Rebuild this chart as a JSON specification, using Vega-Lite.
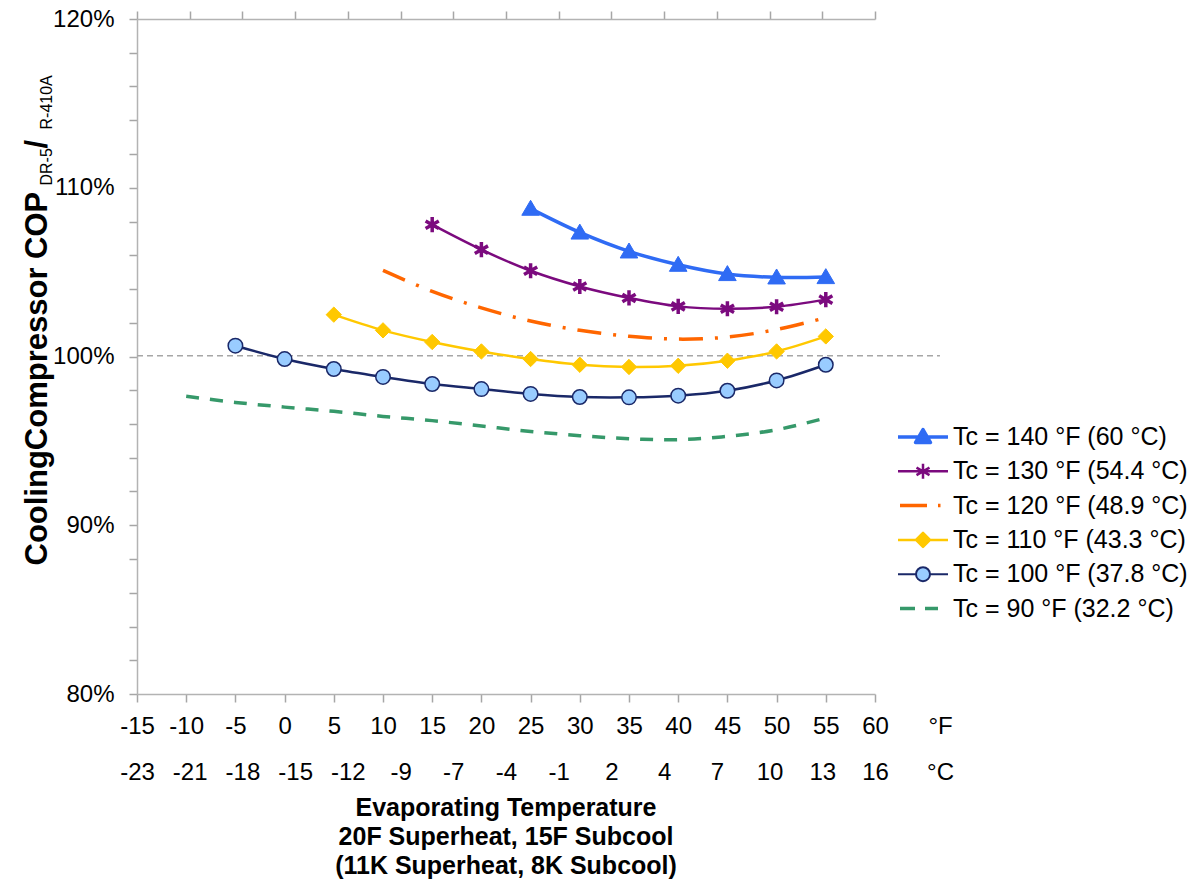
{
  "$schema": "https://vega.github.io/schema/vega-lite/v6.json",
  "width": 738,
  "height": 675,
  "autosize": "none",
  "padding": {"left": 137, "top": 19, "right": 328, "bottom": 190},
  "background": "white",
  "config": {"font": "Liberation Sans", "view": {"stroke": null}, "axis": {"grid": false}},
  "title": {
    "text": ["Evaporating Temperature", "20F Superheat, 15F Subcool", "(11K Superheat, 8K Subcool)"],
    "orient": "bottom", "anchor": "middle", "frame": "group",
    "fontSize": 25, "fontWeight": "bold", "lineHeight": 29, "color": "#000", "offset": 11
  },
  "datasets": {
    "curves": [
      {"series": "Tc = 140 °F (60 °C)", "tevap": 25, "ratio": 108.76},
      {"series": "Tc = 140 °F (60 °C)", "tevap": 30, "ratio": 107.35},
      {"series": "Tc = 140 °F (60 °C)", "tevap": 35, "ratio": 106.23},
      {"series": "Tc = 140 °F (60 °C)", "tevap": 40, "ratio": 105.44},
      {"series": "Tc = 140 °F (60 °C)", "tevap": 45, "ratio": 104.89},
      {"series": "Tc = 140 °F (60 °C)", "tevap": 50, "ratio": 104.69},
      {"series": "Tc = 140 °F (60 °C)", "tevap": 55, "ratio": 104.71},
      {"series": "Tc = 130 °F (54.4 °C)", "tevap": 15, "ratio": 107.81},
      {"series": "Tc = 130 °F (54.4 °C)", "tevap": 20, "ratio": 106.33},
      {"series": "Tc = 130 °F (54.4 °C)", "tevap": 25, "ratio": 105.08},
      {"series": "Tc = 130 °F (54.4 °C)", "tevap": 30, "ratio": 104.15},
      {"series": "Tc = 130 °F (54.4 °C)", "tevap": 35, "ratio": 103.47},
      {"series": "Tc = 130 °F (54.4 °C)", "tevap": 40, "ratio": 102.97},
      {"series": "Tc = 130 °F (54.4 °C)", "tevap": 45, "ratio": 102.83},
      {"series": "Tc = 130 °F (54.4 °C)", "tevap": 50, "ratio": 102.95},
      {"series": "Tc = 130 °F (54.4 °C)", "tevap": 55, "ratio": 103.37},
      {"series": "Tc = 120 °F (48.9 °C)", "tevap": 10, "ratio": 105.1},
      {"series": "Tc = 120 °F (48.9 °C)", "tevap": 15, "ratio": 103.86},
      {"series": "Tc = 120 °F (48.9 °C)", "tevap": 20, "ratio": 102.88},
      {"series": "Tc = 120 °F (48.9 °C)", "tevap": 25, "ratio": 102.1},
      {"series": "Tc = 120 °F (48.9 °C)", "tevap": 30, "ratio": 101.55},
      {"series": "Tc = 120 °F (48.9 °C)", "tevap": 35, "ratio": 101.2},
      {"series": "Tc = 120 °F (48.9 °C)", "tevap": 40, "ratio": 101.03},
      {"series": "Tc = 120 °F (48.9 °C)", "tevap": 45, "ratio": 101.15},
      {"series": "Tc = 120 °F (48.9 °C)", "tevap": 50, "ratio": 101.6},
      {"series": "Tc = 120 °F (48.9 °C)", "tevap": 55, "ratio": 102.3},
      {"series": "Tc = 110 °F (43.3 °C)", "tevap": 5, "ratio": 102.48},
      {"series": "Tc = 110 °F (43.3 °C)", "tevap": 10, "ratio": 101.55},
      {"series": "Tc = 110 °F (43.3 °C)", "tevap": 15, "ratio": 100.86},
      {"series": "Tc = 110 °F (43.3 °C)", "tevap": 20, "ratio": 100.3},
      {"series": "Tc = 110 °F (43.3 °C)", "tevap": 25, "ratio": 99.85},
      {"series": "Tc = 110 °F (43.3 °C)", "tevap": 30, "ratio": 99.51},
      {"series": "Tc = 110 °F (43.3 °C)", "tevap": 35, "ratio": 99.38},
      {"series": "Tc = 110 °F (43.3 °C)", "tevap": 40, "ratio": 99.45},
      {"series": "Tc = 110 °F (43.3 °C)", "tevap": 45, "ratio": 99.75},
      {"series": "Tc = 110 °F (43.3 °C)", "tevap": 50, "ratio": 100.3},
      {"series": "Tc = 110 °F (43.3 °C)", "tevap": 55, "ratio": 101.19},
      {"series": "Tc = 100 °F (37.8 °C)", "tevap": -5, "ratio": 100.64},
      {"series": "Tc = 100 °F (37.8 °C)", "tevap": 0, "ratio": 99.85},
      {"series": "Tc = 100 °F (37.8 °C)", "tevap": 5, "ratio": 99.26},
      {"series": "Tc = 100 °F (37.8 °C)", "tevap": 10, "ratio": 98.79},
      {"series": "Tc = 100 °F (37.8 °C)", "tevap": 15, "ratio": 98.37},
      {"series": "Tc = 100 °F (37.8 °C)", "tevap": 20, "ratio": 98.07},
      {"series": "Tc = 100 °F (37.8 °C)", "tevap": 25, "ratio": 97.78},
      {"series": "Tc = 100 °F (37.8 °C)", "tevap": 30, "ratio": 97.6},
      {"series": "Tc = 100 °F (37.8 °C)", "tevap": 35, "ratio": 97.58},
      {"series": "Tc = 100 °F (37.8 °C)", "tevap": 40, "ratio": 97.68},
      {"series": "Tc = 100 °F (37.8 °C)", "tevap": 45, "ratio": 97.97},
      {"series": "Tc = 100 °F (37.8 °C)", "tevap": 50, "ratio": 98.58},
      {"series": "Tc = 100 °F (37.8 °C)", "tevap": 55, "ratio": 99.51},
      {"series": "Tc = 90 °F (32.2 °C)", "tevap": -10, "ratio": 97.64},
      {"series": "Tc = 90 °F (32.2 °C)", "tevap": -5, "ratio": 97.28},
      {"series": "Tc = 90 °F (32.2 °C)", "tevap": 0, "ratio": 97.0},
      {"series": "Tc = 90 °F (32.2 °C)", "tevap": 5, "ratio": 96.75},
      {"series": "Tc = 90 °F (32.2 °C)", "tevap": 10, "ratio": 96.45},
      {"series": "Tc = 90 °F (32.2 °C)", "tevap": 15, "ratio": 96.2},
      {"series": "Tc = 90 °F (32.2 °C)", "tevap": 20, "ratio": 95.88},
      {"series": "Tc = 90 °F (32.2 °C)", "tevap": 25, "ratio": 95.56},
      {"series": "Tc = 90 °F (32.2 °C)", "tevap": 30, "ratio": 95.31},
      {"series": "Tc = 90 °F (32.2 °C)", "tevap": 35, "ratio": 95.13},
      {"series": "Tc = 90 °F (32.2 °C)", "tevap": 40, "ratio": 95.07},
      {"series": "Tc = 90 °F (32.2 °C)", "tevap": 45, "ratio": 95.27},
      {"series": "Tc = 90 °F (32.2 °C)", "tevap": 50, "ratio": 95.66},
      {"series": "Tc = 90 °F (32.2 °C)", "tevap": 55, "ratio": 96.36}
    ],
    "ref": [{"level": 100.05}]
  },
  "layer": [
    {
      "data": {"name": "ref"},
      "mark": {"type": "rule", "color": "#A6A6A6", "strokeWidth": 1.5, "strokeDash": [6, 4]},
      "encoding": {
        "y": {"field": "level", "type": "quantitative", "scale": {"domain": [80, 120], "nice": false, "zero": false},
          "axis": {"orient": "left", "labels": false, "ticks": false, "domain": false, "grid": false,
            "title": "R-410A", "titleFontSize": 16, "titleFontWeight": "normal", "titleColor": "#000",
            "titleX": -86, "titleY": 110, "titleAngle": 270, "titleAlign": "left", "titleBaseline": "alphabetic"}},
        "x": {"datum": -15, "type": "quantitative", "scale": {"domain": [-15, 60], "nice": false, "zero": false}, "axis": null},
        "x2": {"datum": 66.6}
      }
    },
    {
      "data": {"name": "curves"},
      "transform": [{"filter": {"field": "series", "oneOf": ["Tc = 140 °F (60 °C)", "Tc = 130 °F (54.4 °C)", "Tc = 110 °F (43.3 °C)", "Tc = 100 °F (37.8 °C)"]}}],
      "mark": {"type": "line", "interpolate": "catmull-rom"},
      "encoding": {
        "x": {"field": "tevap", "type": "quantitative", "scale": {"domain": [-15, 60], "nice": false, "zero": false},
          "axis": {"orient": "bottom", "values": [-15, -10, -5, 0, 5, 10, 15, 20, 25, 30, 35, 40, 45, 50, 55, 60],
            "labelExpr": "datum.value + ''",
            "labelFontSize": 24, "labelColor": "#000", "labelPadding": 12, "labelBaseline": "top",
            "labelFlush": false, "labelOverlap": false, "tickSize": 8, "tickColor": "#A6A6A6", "tickWidth": 1.5,
            "domainColor": "#B3B3B3", "domainWidth": 1.5,
            "title": "°F", "titleX": 803, "titleY": 20, "titleAlign": "center", "titleBaseline": "top",
            "titleFontSize": 24, "titleFontWeight": "normal", "titleColor": "#000"}},
        "y": {"field": "ratio", "type": "quantitative", "scale": {"domain": [80, 120], "nice": false, "zero": false},
          "axis": {"orient": "left", "values": [80, 82, 84, 86, 88, 90, 92, 94, 96, 98, 100, 102, 104, 106, 108, 110, 112, 114, 116, 118, 120],
            "labelExpr": "datum.value % 10 === 0 ? datum.value + '%' : ''",
            "labelFontSize": 24, "labelColor": "#000", "labelPadding": 15, "labelBaseline": "middle",
            "labelFlush": false, "labelOverlap": false, "tickSize": 8, "tickColor": "#A6A6A6", "tickWidth": 1.5,
            "domainColor": "#B3B3B3", "domainWidth": 1.5,
            "title": "CoolingCompressor COP", "titleFontSize": 31, "titleFontWeight": "bold", "titleColor": "#000",
            "titleX": -90.5, "titleY": 546, "titleAngle": 270, "titleAlign": "left", "titleBaseline": "alphabetic"}},
        "color": {"field": "series", "type": "nominal",
          "scale": {"domain": ["Tc = 140 °F (60 °C)", "Tc = 130 °F (54.4 °C)", "Tc = 120 °F (48.9 °C)", "Tc = 110 °F (43.3 °C)", "Tc = 100 °F (37.8 °C)", "Tc = 90 °F (32.2 °C)"],
            "range": ["#2F6BF4", "#7B0A7E", "#FF6600", "#FFC800", "#1A2868", "#36996A"]},
          "legend": {"orient": "none", "legendX": 771, "legendY": 418, "title": null, "padding": 0,
            "symbolSize": 900, "labelFontSize": 25, "labelColor": "#000", "labelOffset": 15, "rowPadding": 9.3, "labelLimit": 400,
            "encode": {
              "symbols": {"update": {
                "x": {"value": 15},
                "shape": {"signal": "['M-1,0H1M0,-0.3L0.3,0.22L-0.3,0.22Z','M-1,0H1M0,-0.3V0.3M-0.26,-0.15L0.26,0.15M-0.26,0.15L0.26,-0.15','M-0.92,0H0.16M0.6,0H0.7','M-1,0H1M0,-0.28L0.28,0L0,0.28L-0.28,0Z','M-1,0H-0.28M0.28,0H1M0.28,0A0.28,0.28 0 1 1 -0.28,0A0.28,0.28 0 1 1 0.28,0Z','M-0.92,0H-0.32M0.08,0H0.6'][datum.index]"},
                "size": {"value": 2500},
                "fill": {"signal": "['#2F6BF4','transparent','transparent','#FFC800','#99CCFF','transparent'][datum.index]"},
                "stroke": {"signal": "['#2F6BF4','#7B0A7E','#FF6600','#FFC800','#1A2868','#36996A'][datum.index]"},
                "strokeWidth": {"signal": "[3.5,2.5,3.5,2.5,2,3.5][datum.index]"},
                "strokeJoin": {"value": "round"},
                "opacity": {"value": 1}
              }},
              "labels": {"update": {"x": {"value": 45}}}
            }}},
        "strokeWidth": {"field": "series", "type": "nominal",
          "scale": {"type": "ordinal", "domain": ["Tc = 140 °F (60 °C)", "Tc = 130 °F (54.4 °C)", "Tc = 110 °F (43.3 °C)", "Tc = 100 °F (37.8 °C)"], "range": [3.5, 2.5, 2.5, 2.5]},
          "legend": null}
      }
    },
    {
      "data": {"name": "curves"},
      "transform": [{"filter": {"field": "series", "oneOf": ["Tc = 120 °F (48.9 °C)", "Tc = 90 °F (32.2 °C)"]}}],
      "mark": {"type": "line", "interpolate": "catmull-rom", "strokeWidth": 3.5, "strokeCap": "butt"},
      "encoding": {
        "x": {"field": "tevap", "type": "quantitative", "scale": {"domain": [-15, 60], "nice": false, "zero": false},
          "axis": {"orient": "bottom", "values": [-15, -9.642857, -4.285714, 1.071429, 6.428571, 11.785714, 17.142857, 22.5, 27.857143, 33.214286, 38.571429, 43.928571, 49.285714, 54.642857, 60],
            "labelExpr": "['-23','-21','-18','-15','-12','-9','-7','-4','-1','2','4','7','10','13','16'][round((datum.value+15)*14/75)]",
            "labelFontSize": 24, "labelColor": "#000", "labelPadding": 58.7, "labelBaseline": "top",
            "labelFlush": false, "labelOverlap": false, "ticks": true, "tickSize": 8, "tickOpacity": 0, "domain": false, "grid": false,
            "title": "°C", "titleX": 803, "titleY": 66.7, "titleAlign": "center", "titleBaseline": "top",
            "titleFontSize": 24, "titleFontWeight": "normal", "titleColor": "#000"}},
        "y": {"field": "ratio", "type": "quantitative", "scale": {"domain": [80, 120], "nice": false, "zero": false},
          "axis": {"orient": "left", "labels": false, "ticks": false, "domain": false, "grid": false,
            "title": "DR-5", "titleFontSize": 16, "titleFontWeight": "normal", "titleColor": "#000",
            "titleX": -86, "titleY": 166, "titleAngle": 270, "titleAlign": "left", "titleBaseline": "alphabetic"}},
        "color": {"field": "series", "type": "nominal",
          "scale": {"domain": ["Tc = 140 °F (60 °C)", "Tc = 130 °F (54.4 °C)", "Tc = 120 °F (48.9 °C)", "Tc = 110 °F (43.3 °C)", "Tc = 100 °F (37.8 °C)", "Tc = 90 °F (32.2 °C)"],
            "range": ["#2F6BF4", "#7B0A7E", "#FF6600", "#FFC800", "#1A2868", "#36996A"]}},
        "strokeDash": {"field": "series", "type": "nominal",
          "scale": {"domain": ["Tc = 120 °F (48.9 °C)", "Tc = 90 °F (32.2 °C)"], "range": [[24, 12, 3, 12], [13, 11]]},
          "legend": null}
      }
    },
    {
      "data": {"name": "curves"},
      "transform": [{"filter": {"field": "series", "oneOf": ["Tc = 140 °F (60 °C)", "Tc = 130 °F (54.4 °C)", "Tc = 110 °F (43.3 °C)", "Tc = 100 °F (37.8 °C)"]}}],
      "mark": {"type": "point", "opacity": 1, "filled": true},
      "encoding": {
        "x": {"field": "tevap", "type": "quantitative", "scale": {"domain": [-15, 60], "nice": false, "zero": false},
          "axis": {"orient": "top", "values": [-15, -9.642857, -4.285714, 1.071429, 6.428571, 11.785714, 17.142857, 22.5, 27.857143, 33.214286, 38.571429, 43.928571, 49.285714, 54.642857, 60],
            "labels": false, "title": null, "grid": false, "tickSize": 8, "tickColor": "#A6A6A6", "tickWidth": 1.5,
            "domainColor": "#B3B3B3", "domainWidth": 1.5}},
        "y": {"field": "ratio", "type": "quantitative", "scale": {"domain": [80, 120], "nice": false, "zero": false},
          "axis": {"orient": "left", "labels": false, "ticks": false, "domain": false, "grid": false,
            "title": "/", "titleFontSize": 31, "titleFontWeight": "bold", "titleColor": "#000",
            "titleX": -90.5, "titleY": 129, "titleAngle": 270, "titleAlign": "left", "titleBaseline": "alphabetic"}},
        "shape": {"field": "series", "type": "nominal",
          "scale": {"domain": ["Tc = 140 °F (60 °C)", "Tc = 130 °F (54.4 °C)", "Tc = 110 °F (43.3 °C)", "Tc = 100 °F (37.8 °C)"],
            "range": ["M0,-0.95L1,0.75L-1,0.75Z", "M0,-1V1M-0.87,-0.5L0.87,0.5M-0.87,0.5L0.87,-0.5", "M0,-1L1,0L0,1L-1,0Z", "circle"]},
          "legend": null},
        "fill": {"field": "series", "type": "nominal",
          "scale": {"domain": ["Tc = 140 °F (60 °C)", "Tc = 130 °F (54.4 °C)", "Tc = 110 °F (43.3 °C)", "Tc = 100 °F (37.8 °C)"],
            "range": ["#2F6BF4", "transparent", "#FFC800", "#99CCFF"]},
          "legend": null},
        "stroke": {"field": "series", "type": "nominal",
          "scale": {"domain": ["Tc = 140 °F (60 °C)", "Tc = 130 °F (54.4 °C)", "Tc = 110 °F (43.3 °C)", "Tc = 100 °F (37.8 °C)"],
            "range": ["#2F6BF4", "#7B0A7E", "#FFC800", "#1A2868"]},
          "legend": null},
        "size": {"field": "series", "type": "nominal",
          "scale": {"type": "ordinal", "domain": ["Tc = 140 °F (60 °C)", "Tc = 130 °F (54.4 °C)", "Tc = 110 °F (43.3 °C)", "Tc = 100 °F (37.8 °C)"],
            "range": [310, 230, 235, 210]},
          "legend": null},
        "strokeWidth": {"field": "series", "type": "nominal",
          "scale": {"type": "ordinal", "domain": ["Tc = 140 °F (60 °C)", "Tc = 130 °F (54.4 °C)", "Tc = 110 °F (43.3 °C)", "Tc = 100 °F (37.8 °C)"],
            "range": [1, 3.5, 1, 1.5]},
          "legend": null}
      }
    }
  ],
  "resolve": {"axis": {"x": "independent", "y": "independent"}, "scale": {"strokeWidth": "independent"}}
}
